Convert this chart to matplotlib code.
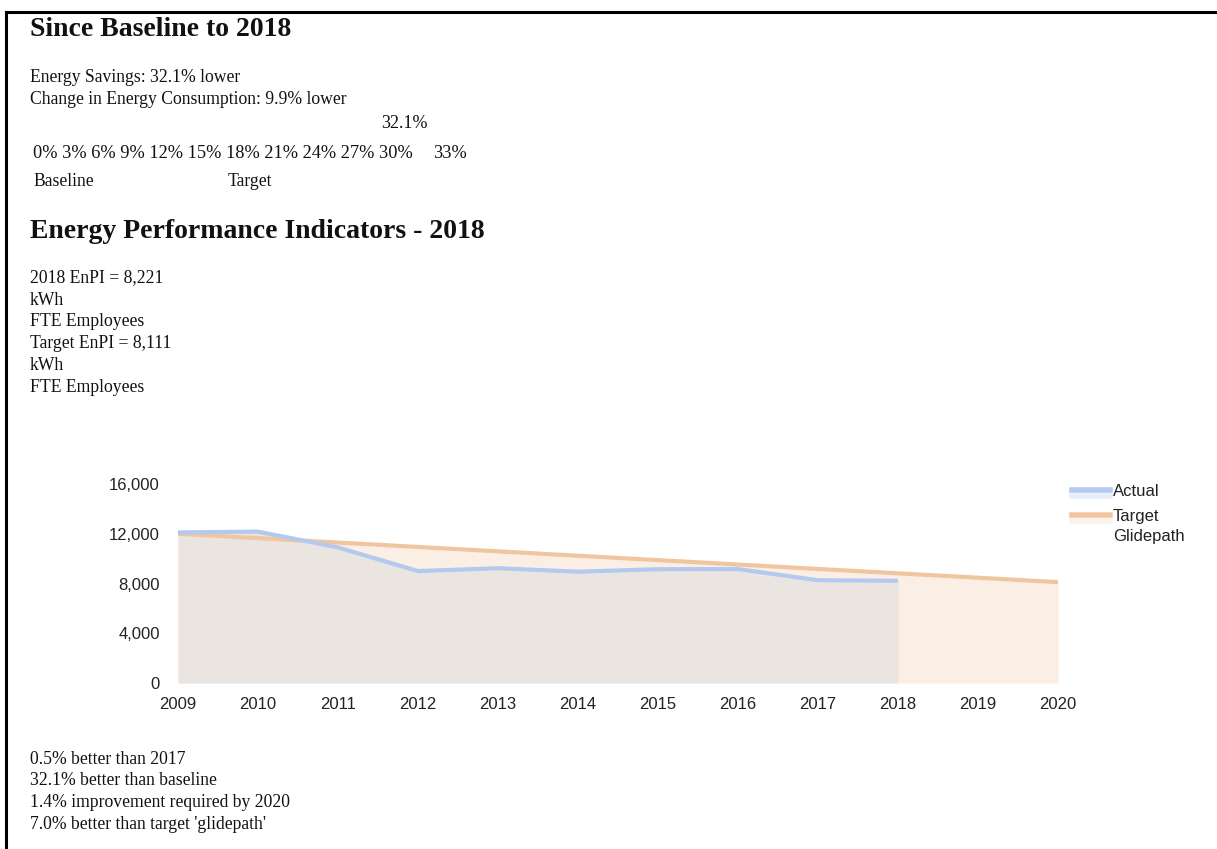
import numpy as np
import matplotlib.pyplot as plt
from matplotlib.lines import Line2D
from matplotlib.ticker import FuncFormatter

years = [2009, 2010, 2011, 2012, 2013, 2014, 2015, 2016, 2017, 2018, 2019, 2020]
actual_years = [2009, 2010, 2011, 2012, 2013, 2014, 2015, 2016, 2017, 2018]
actual = [12108, 12170, 10900, 9000, 9230, 8950, 9150, 9160, 8262, 8221]
target = [12000, 11646, 11293, 10939, 10586, 10232, 9879, 9525, 9172, 8818, 8465, 8111]
yticks = [0, 4000, 8000, 12000, 16000]

scale_labels = ['0%', '3%', '6%', '9%', '12%', '15%', '18%', '21%', '24%', '27%', '30%']
summary_lines = ['Energy Savings: 32.1% lower', 'Change in Energy Consumption: 9.9% lower']
enpi_lines = ['2018 EnPI = 8,221', 'kWh', 'FTE Employees', 'Target EnPI = 8,111', 'kWh', 'FTE Employees']
bottom_lines = ['0.5% better than 2017', '32.1% better than baseline',
                '1.4% improvement required by 2020', "7.0% better than target 'glidepath'"]

blue = '#b4c9ef'
orange = '#f0c6a0'
serif = 'Liberation Serif'
sans = 'Liberation Sans'
body = 12.7

W, H = 1217, 849
fig = plt.figure(figsize=(W / 100, H / 100), dpi=100)

def px(x, y):
    return x / W, 1 - y / H

# page frame (top and left rules)
fig.add_artist(Line2D([6 / W, 1], [1 - 12 / H] * 2, color='black', lw=2.2))
fig.add_artist(Line2D([6 / W] * 2, [0, 1 - 12 / H], color='black', lw=2.2))

tc = '#111111'
fig.text(*px(30, 29), 'Since Baseline to 2018', family=serif, weight='bold', fontsize=20, va='center', color=tc)
for i, s in enumerate(summary_lines):
    fig.text(*px(30, 77 + 22 * i), s, family=serif, fontsize=body, va='center', color=tc)
fig.text(*px(381, 124), '32.1%', family=serif, fontsize=13, va='center', color=tc)
fig.text(*px(33, 154), ' '.join(scale_labels), family=serif, fontsize=13.2, va='center', color=tc)
fig.text(*px(433, 154), '33%', family=serif, fontsize=13.2, va='center', color=tc)
fig.text(*px(33, 181), 'Baseline', family=serif, fontsize=body, va='center', color=tc)
fig.text(*px(228, 181), 'Target', family=serif, fontsize=body, va='center', color=tc)

fig.text(*px(30, 231), 'Energy Performance Indicators - 2018', family=serif, weight='bold', fontsize=20,
         va='center', color=tc)
for i, s in enumerate(enpi_lines):
    fig.text(*px(30, 278 + 22 * i), s, family=serif, fontsize=body, va='center', color=tc)
for i, s in enumerate(bottom_lines):
    fig.text(*px(30, 759 + 21.7 * i), s, family=serif, fontsize=body, va='center', color=tc)

# chart
ax = fig.add_axes([178 / W, 1 - 683 / H, (1058 - 178) / W, (683 - 484) / H])
ax.fill_between(years, target, color='#fbefe5', lw=0)
ax.fill_between(actual_years, actual, color='#ebe5e2', lw=0)
ax.plot(years, target, color=orange, lw=3, solid_capstyle='butt')
ax.plot(actual_years, actual, color=blue, lw=3, solid_capstyle='butt')
ax.set_xlim(2009, 2020)
ax.set_ylim(0, 16000)
ax.set_xticks(years)
ax.set_yticks(yticks)
ax.yaxis.set_major_formatter(FuncFormatter(lambda v, p: f'{int(v):,}'))
for s in ax.spines.values():
    s.set_visible(False)
ax.tick_params(length=0, labelsize=12, labelcolor='#222222')
ax.tick_params(axis='y', pad=13)
ax.tick_params(axis='x', pad=10)
for lab in ax.get_xticklabels() + ax.get_yticklabels():
    lab.set_family(sans)

# legend
for yy, col, fc in [(491, blue, '#e6eefb'), (516, orange, '#fcf1e8')]:
    fig.add_artist(Line2D([1072 / W, 1110 / W], [1 - (yy - 1) / H] * 2, color=col, lw=4))
    fig.add_artist(Line2D([1072 / W, 1110 / W], [1 - (yy + 5) / H] * 2, color=fc, lw=4))
fig.text(*px(1113, 492), 'Actual', family=sans, fontsize=12, va='center', color='#222222')
fig.text(*px(1113, 517), 'Target', family=sans, fontsize=12, va='center', color='#222222')
fig.text(*px(1113, 537), 'Glidepath', family=sans, fontsize=12, va='center', color='#222222')

fig.savefig('out.png', dpi=100)
